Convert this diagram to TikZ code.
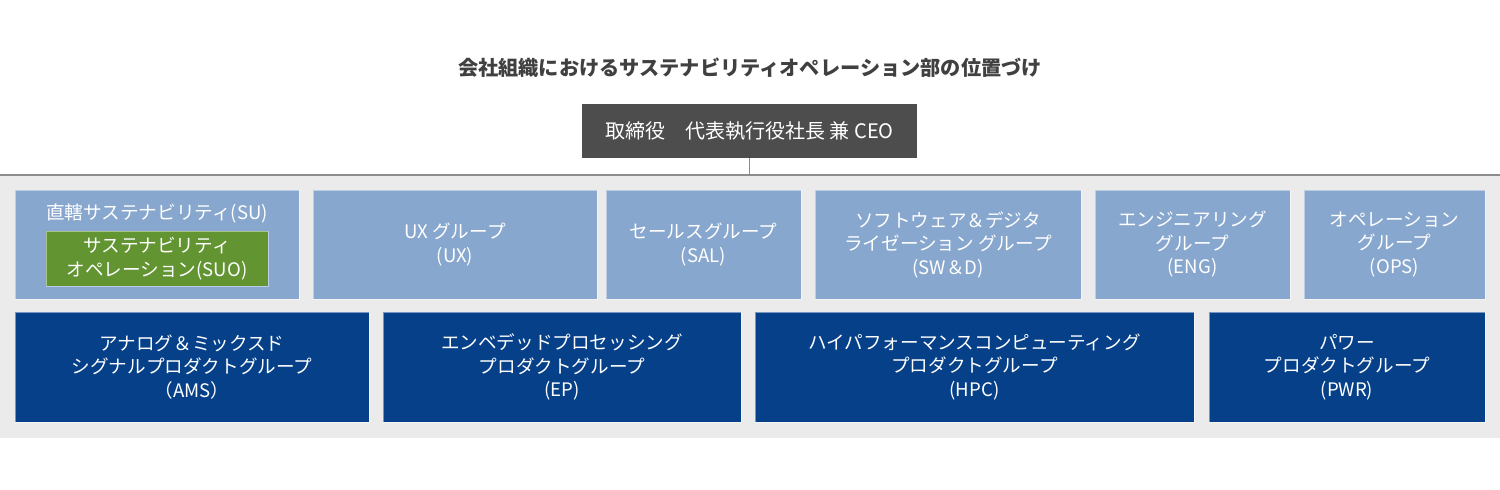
\documentclass[tikz,border=0pt]{standalone}
\usepackage{fontspec}
\setmainfont{Noto Sans CJK JP}
\usepackage{tikz}
\usetikzlibrary{positioning}
\definecolor{orgdark}{RGB}{77,77,77}
\definecolor{orglight}{RGB}{136,167,206}
\definecolor{orggreen}{RGB}{98,148,50}
\definecolor{orgnavy}{RGB}{5,64,137}
\definecolor{orgpanel}{RGB}{235,235,235}
\definecolor{orgline}{RGB}{140,140,140}
\definecolor{orgtitle}{RGB}{64,64,64}

\begin{document}
\begin{tikzpicture}[x=0.5pt,y=-0.5pt,
                    unit/.style={rectangle,fill=orglight,draw=white,draw opacity=0.45,
                                 line width=0.5pt,text=white,align=center,inner sep=0pt,
                                 minimum height=54.5pt,
                                 font=\fontsize{9.3}{11.75}\selectfont},
                    subunit/.style={unit,fill=orggreen,minimum height=27.5pt},
                    pgroup/.style={unit,fill=orgnavy,minimum height=55pt},
                    ceo/.style={rectangle,fill=orgdark,text=white,inner sep=0pt,
                                minimum width=167.5pt,minimum height=27pt,
                                font=\fontsize{10}{12}\selectfont},
                    link/.style={orgline,line width=0.75pt}]
  \useasboundingbox (0,0) rectangle (1500,489);
  % panel behind the organisation units
  \fill[orgpanel] (0,175) rectangle (1500,438);
  \draw[link] (0,175) -- (1500,175);

  \node[font=\bfseries\fontsize{10.1}{12}\selectfont,text=orgtitle] (title) at (750,68)
    {会社組織におけるサステナビリティオペレーション部の位置づけ};
  \node[ceo] (ceo) at (749.5,131) {取締役　代表執行役社長 兼 CEO};
  \coordinate (panel) at (749.5,175);
  \draw[link] (ceo.south) -- (panel);

  % business units
  \node[unit,minimum width=142pt] (su) at (157,244.5) {};
  \node[unit,fill=none,draw=none,anchor=center] (sulabel) at (157,213) {直轄サステナビリティ(SU)};
  \node[subunit,minimum width=111pt] (suo) at (157,258.5)
    {サステナビリティ\\オペレーション(SUO)};
  \node[unit,minimum width=142pt] (ux) at (455,244.5) {UX グループ\\(UX)};
  \node[unit,minimum width=97.5pt] (sal) at (703.5,244.5) {セールスグループ\\(SAL)};
  \node[unit,minimum width=133pt] (swd) at (948,244.5)
    {ソフトウェア＆デジタ\\ライゼーション グループ\\(SW＆D)};
  \node[unit,minimum width=97.5pt] (eng) at (1192.5,244.5) {エンジニアリング\\グループ\\(ENG)};
  \node[unit,minimum width=90.5pt] (ops) at (1394.5,244.5) {オペレーション\\グループ\\(OPS)};

  % product groups
  \node[pgroup,minimum width=177pt] (ams) at (192,367)
    {アナログ＆ミックスド\\シグナルプロダクトグループ\\（AMS）};
  \node[pgroup,minimum width=179pt] (ep) at (562,367)
    {エンベデッドプロセッシング\\プロダクトグループ\\(EP)};
  \node[pgroup,minimum width=219.5pt] (hpc) at (974.5,367)
    {ハイパフォーマンスコンピューティング\\プロダクトグループ\\(HPC)};
  \node[pgroup,minimum width=138pt] (pwr) at (1347,367)
    {パワー\\プロダクトグループ\\(PWR)};
\end{tikzpicture}
\end{document}
